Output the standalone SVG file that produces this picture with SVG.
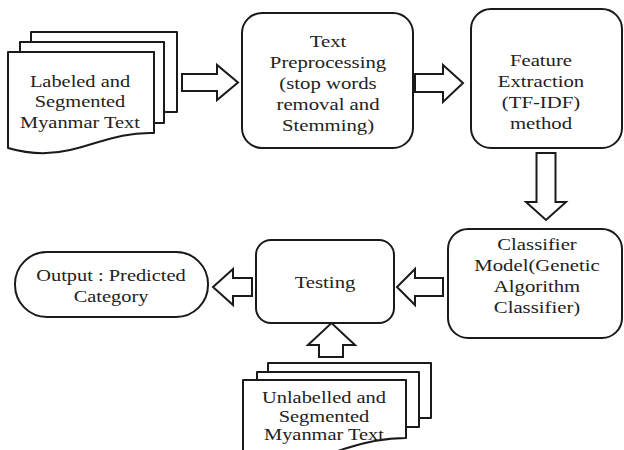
<svg xmlns="http://www.w3.org/2000/svg" width="624" height="450" viewBox="0 0 624 450">
<style>
.shape{fill:#fff;stroke:#1a1a1a;stroke-width:2;stroke-linejoin:round}
.arrow{fill:#fff;stroke:#1a1a1a;stroke-width:2;stroke-linejoin:miter}
text{font-family:"Liberation Serif","Times New Roman",serif;font-size:17px;fill:#222;text-anchor:middle}
</style>
<rect width="624" height="450" fill="#fff"/>
<g id="labeled-docs">
<rect class="shape" x="31" y="32" width="146" height="80"/>
<rect class="shape" x="20" y="42" width="144" height="81"/>
<path class="shape" d="M8,52 H154 V133 C120,132 100,143 70,150 C45,156 25,153 8,148 Z"/>
<g transform="translate(80 0) scale(1.2 1)">
<text x="0" y="87">Labeled and</text>
<text x="0" y="107">Segmented</text>
<text x="0" y="128">Myanmar Text</text>
</g>
</g>
<g id="preprocessing">
<rect class="shape" x="242" y="13" width="171" height="135" rx="20"/>
<g transform="translate(328 0) scale(1.22 1)">
<text x="0" y="47">Text</text>
<text x="0" y="68">Preprocessing</text>
<text x="0" y="89">(stop words</text>
<text x="0" y="110">removal and</text>
<text x="0" y="131">Stemming)</text>
</g>
</g>
<g id="feature">
<rect class="shape" x="471" y="9" width="151" height="139" rx="20"/>
<g transform="translate(541 0) scale(1.22 1)">
<text x="0" y="66">Feature</text>
<text x="0" y="87">Extraction</text>
<text x="0" y="108">(TF-IDF)</text>
<text x="0" y="129">method</text>
</g>
</g>
<g id="classifier">
<rect class="shape" x="448" y="229" width="174" height="109" rx="20"/>
<g transform="translate(537 0) scale(1.22 1)">
<text x="0" y="250">Classifier</text>
<text x="0" y="271">Model(Genetic</text>
<text x="0" y="292">Algorithm</text>
<text x="0" y="313">Classifier)</text>
</g>
</g>
<g id="testing">
<rect class="shape" x="256" y="240" width="138" height="83" rx="15"/>
<g transform="translate(325 0) scale(1.22 1)">
<text x="0" y="288">Testing</text>
</g>
</g>
<g id="output">
<rect class="shape" x="15" y="252" width="193" height="65" rx="32"/>
<g transform="translate(111 0) scale(1.2 1)">
<text x="0" y="281">Output : Predicted</text>
<text x="0" y="302">Category</text>
</g>
</g>
<g id="unlabelled-docs">
<rect class="shape" x="268" y="363" width="163" height="55"/>
<rect class="shape" x="257" y="372" width="162" height="55"/>
<path class="shape" d="M243,380 H406 V438 C385,438 360,443 335,452 L243,470 Z"/>
<g transform="translate(324 0) scale(1.2 1)">
<text x="0" y="403">Unlabelled and</text>
<text x="0" y="422">Segmented</text>
<text x="0" y="440">Myanmar Text</text>
</g>
</g>
<g id="connectors">
<polygon class="arrow" points="182,74 217,74 217,65 238,82.5 217,100 217,91 182,91"/>
<polygon class="arrow" points="415,74 443,74 443,65 463,83 443,102 443,92 415,92"/>
<polygon class="arrow" points="536.5,153 555.5,153 555.5,202 566,202 546,220 526,202 536.5,202"/>
<polygon class="arrow" points="443,278 415,278 415,269 397,287 415,305 415,296 443,296"/>
<polygon class="arrow" points="252,278 233,278 233,269 213,287 233,305 233,296 252,296"/>
<polygon class="arrow" points="319,357 319,345 308,345 331.5,323 355,345 343,345 343,357"/>
</g>
</svg>
